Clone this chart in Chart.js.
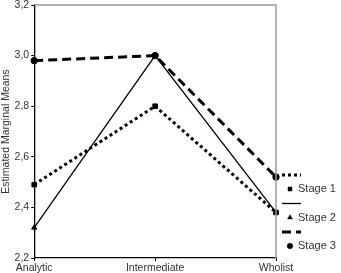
<!DOCTYPE html>
<html>
<head>
<meta charset="utf-8">
<script src="https://cdn.jsdelivr.net/npm/chart.js@4"></script>
<style>
    html, body { margin: 0; padding: 0; background: #fff; }
    #wrap { width: 341px; height: 273px; position: relative; }
</style>
</head>
<body>
<div id="wrap"><canvas id="meansChart"></canvas></div>
<script>
// ===== DATA =====
const categories = ['Analytic', 'Intermediate', 'Wholist'];
const stage1 = [2.49, 2.80, 2.38];
const stage2 = [2.32, 3.00, 2.38];
const stage3 = [2.98, 3.00, 2.52];
const seriesNames = ['Stage 1', 'Stage 2', 'Stage 3'];
const yTicks = [2.2, 2.4, 2.6, 2.8, 3.0, 3.2];

const textColor = '#333';
const fontFamily = 'Liberation Sans, Arial, sans-serif';

// top and right frame lines in grey
const framePlugin = {
    id: 'frame',
    afterDraw(chart) {
        const { ctx, chartArea } = chart;
        ctx.save();
        ctx.strokeStyle = '#999';
        ctx.lineWidth = 1.5;
        ctx.beginPath();
        ctx.moveTo(chartArea.left, chartArea.top);
        ctx.lineTo(chartArea.right, chartArea.top);
        ctx.lineTo(chartArea.right, chartArea.bottom);
        ctx.stroke();
        ctx.restore();
    }
};

// legend: line sample on one row, marker + label on the next
const legendPlugin = {
    id: 'stageLegend',
    afterDraw(chart) {
        const { ctx, chartArea } = chart;
        const x0 = chartArea.right + 6;
        let y = 175;
        ctx.save();
        chart.data.datasets.forEach(ds => {
            ctx.strokeStyle = '#000';
            ctx.lineWidth = ds.borderWidth;
            ctx.setLineDash(ds.borderDash || []);
            ctx.beginPath();
            ctx.moveTo(x0, y);
            ctx.lineTo(x0 + 19, y);
            ctx.stroke();
            ctx.setLineDash([]);
            ctx.fillStyle = '#000';
            ctx.strokeStyle = '#000';
            ctx.lineWidth = 0.5;
            Chart.helpers.drawPoint(ctx, {
                pointStyle: ds.pointStyle,
                radius: 2.8,
                rotation: 0,
                borderWidth: 0.5
            }, x0 + 8, y + 14);
            ctx.fillStyle = textColor;
            ctx.font = '11px ' + fontFamily;
            ctx.textBaseline = 'middle';
            ctx.fillText(ds.label, x0 + 16, y + 14);
            y += 28.5;
        });
        ctx.restore();
    }
};

function initializeChart() {
    const ctx = document.getElementById('meansChart');

    new Chart(ctx, {
        type: 'line',
        data: {
            labels: categories,
            datasets: [{
                label: seriesNames[0],
                data: stage1,
                order: 0,
                borderColor: '#000',
                backgroundColor: '#000',
                borderWidth: 3,
                borderDash: [3, 3],
                pointStyle: 'rect',
                pointRadius: 3.2,
                pointBorderWidth: 1,
                tension: 0
            }, {
                label: seriesNames[1],
                data: stage2,
                order: 1,
                borderColor: '#000',
                backgroundColor: '#000',
                borderWidth: 1.3,
                pointStyle: 'triangle',
                pointRadius: 3,
                pointBorderWidth: 1,
                tension: 0
            }, {
                label: seriesNames[2],
                data: stage3,
                order: 0,
                borderColor: '#000',
                backgroundColor: '#000',
                borderWidth: 3,
                borderDash: [9, 5],
                pointStyle: 'circle',
                pointRadius: 3.2,
                pointBorderWidth: 1,
                tension: 0
            }]
        },
        options: {
            responsive: true,
            maintainAspectRatio: false,
            animation: false,
            layout: {
                padding: { top: 0, right: 65, bottom: 0, left: 0 }
            },
            plugins: {
                legend: { display: false },
                tooltip: { enabled: false }
            },
            scales: {
                x: {
                    type: 'category',
                    offset: false,
                    afterFit(scale) {
                        scale.height = 15;
                    },
                    grid: {
                        display: true,
                        drawOnChartArea: false,
                        drawTicks: true,
                        tickLength: 3,
                        color: '#000'
                    },
                    border: { color: '#000', width: 1.3 },
                    ticks: {
                        color: textColor,
                        font: { size: 10.5, family: fontFamily },
                        padding: 1,
                        maxRotation: 0,
                        autoSkip: false
                    }
                },
                y: {
                    min: yTicks[0],
                    max: yTicks[yTicks.length - 1],
                    afterBuildTicks(scale) {
                        scale.ticks = yTicks.map(v => ({ value: v }));
                    },
                    afterFit(scale) {
                        scale.paddingTop = 4.5;
                    },
                    grid: {
                        display: true,
                        drawOnChartArea: false,
                        drawTicks: true,
                        tickLength: 3,
                        color: '#000'
                    },
                    border: { color: '#000', width: 1.3 },
                    ticks: {
                        color: textColor,
                        font: { size: 10.5, family: fontFamily },
                        padding: 2,
                        callback: v => Number(v).toFixed(1).replace('.', ',')
                    },
                    title: {
                        display: true,
                        text: 'Estimated Marginal Means',
                        color: textColor,
                        font: { size: 10.5, family: fontFamily },
                        padding: { top: 0, bottom: 0 }
                    }
                }
            }
        },
        plugins: [framePlugin, legendPlugin]
    });
}

document.addEventListener('DOMContentLoaded', initializeChart);
</script>
</body>
</html>
